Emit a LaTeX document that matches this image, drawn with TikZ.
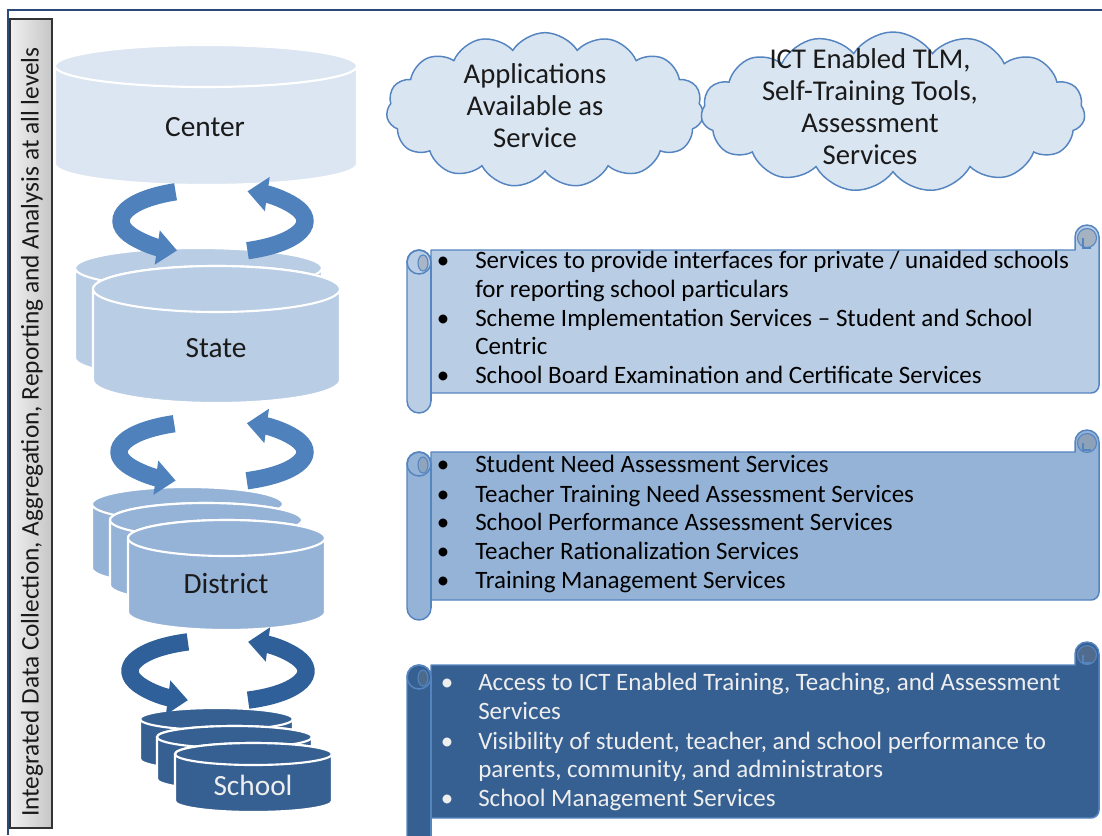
\documentclass[tikz,border=0pt]{standalone}
\usepackage{fontspec}
\setmainfont{Carlito}
\usetikzlibrary{shapes.symbols,arrows.meta}
\definecolor{frameblue}{HTML}{2B4A7A}
\definecolor{cen}{HTML}{DCE6F2}
\definecolor{sta}{HTML}{B9CDE5}
\definecolor{dis}{HTML}{95B3D7}
\definecolor{sch}{HTML}{376092}
\definecolor{arrA}{HTML}{4F81BD}
\definecolor{arrB}{HTML}{30609A}
\definecolor{cloudfill}{HTML}{DAE5F2}
\definecolor{cloudline}{HTML}{5585C0}
\definecolor{scrollline}{HTML}{5585C0}
\definecolor{txtdark}{HTML}{1A1A1A}
\definecolor{txtlight}{HTML}{EEEEEE}
\newcommand\cylshape[6]{% a b top bottom ry colour
  \pgfmathsetmacro\cylcx{(#1+#2)/2}\pgfmathsetmacro\cylrx{(#2-#1)/2}
  \filldraw[fill=#6, draw=white, line width=1.6pt]
    (#1,#3+#5) -- (#1,#4-#5) arc[start angle=180,end angle=0,x radius=\cylrx,y radius=#5]
    -- (#2,#3+#5) arc[start angle=0,end angle=-180,x radius=\cylrx,y radius=#5] -- cycle;
  \filldraw[fill=#6, draw=white, line width=1.6pt] (\cylcx,#3+#5) ellipse[x radius=\cylrx, y radius=#5];
}
\newcommand\scrollpanel[7]{% L T R B rolltop leftbottom colour
  \filldraw[fill=#7, draw=scrollline, line width=1.1pt, line join=round]
    (#1+24,#2) -- (#3-24,#2) -- (#3-24,#5+12) arc[start angle=180,end angle=360,radius=12]
    -- (#3,#4-8) arc[start angle=0,end angle=90,radius=8]
    -- (#1+24,#4) -- (#1+24,#6-12) arc[start angle=0,end angle=180,radius=12]
    -- (#1,#2+12) arc[start angle=180,end angle=360,radius=12] -- cycle;
  \draw[scrollline, line width=1.1pt] (#1+24,#2+12) -- (#1+24,#6-12);
  \draw[scrollline, line width=1.1pt] (#1+12,#2+12) circle[radius=12];
  \filldraw[fill=#7!70!gray, draw=scrollline, line width=0.8pt] (#1+16,#2+13) ellipse[x radius=5, y radius=8];
  \filldraw[fill=#7!65!gray, draw=scrollline, line width=0.8pt] (#3-12,#5+13) circle[radius=9.5];
  \draw[scrollline, line width=0.9pt] (#3-16,#5+13) -- (#3-16,#2-2) -- (#3-8,#2-2);
}
\tikzset{
  ring/.style={line width=13pt, -{Triangle[width=25pt,length=15pt]}},
  cyllabel/.style={font=\fontsize{22}{26}\selectfont, text=txtdark, inner sep=0pt},
  cloudbox/.style={cloud, cloud puffs=15, cloud puff arc=115, cloud ignores aspect, draw=cloudline, fill=cloudfill, line width=1.1pt, inner sep=0pt},
  cloudtext/.style={font=\fontsize{21.5}{24}\selectfont, align=center, text=txtdark, inner sep=0pt},
  listline/.style={font=\fontsize{18.75}{22}\selectfont, anchor=west, text height=13pt, text depth=4pt, inner sep=0pt},
  bul/.style={font=\fontsize{18.75}{22}\selectfont, anchor=center, text height=13pt, text depth=4pt, inner sep=0pt},
}
\begin{document}
\begin{tikzpicture}[x=0.75pt,y=-0.75pt]
\useasboundingbox (0,0) rectangle (1102,835);
\clip (0,0) rectangle (1102,835);
\fill[white] (0,0) rectangle (1102,835);
% frame
\draw[frameblue, line width=2.2pt] (8,835) -- (8,10) -- (1102,10);
% side bar
\shade[left color=gray!12, right color=gray!45] (10,19) rectangle (52,828);
\draw[black!80, line width=1.1pt] (10,19) rectangle (52,828);
\node[rotate=90, font=\fontsize{19}{22}\selectfont, text=txtdark, inner sep=0pt] (sidebar) at (32,432)
  {Integrated Data Collection, Aggregation, Reporting and Analysis at all levels};
% cylinders
\cylshape{55}{357}{45}{185}{21}{cen}
\node[cyllabel] (center) at (205,127) {Center};
\cylshape{75}{322}{248}{378}{20}{sta}
\cylshape{93}{340}{266}{403}{23}{sta}
\node[cyllabel] (state) at (216,348) {State};
\cylshape{92}{283}{487}{585}{17}{dis}
\cylshape{110}{302}{503}{602}{17}{dis}
\cylshape{128}{325}{520}{630}{18}{dis}
\node[cyllabel] (district) at (226,584) {District};
\cylshape{140}{293}{708}{770}{11}{sch}
\cylshape{157}{312}{726}{790}{11}{sch}
\cylshape{175}{332}{743}{812}{11}{sch}
\node[cyllabel, text=txtlight] (school) at (253,785) {School};
% ring arrows
\draw[ring, arrA] (213,221) ++(246:92 and 32) arc[start angle=246,end angle=113,x radius=92,y radius=32];
\draw[ring, arrA] (213,221) ++(68:92 and 32) arc[start angle=68,end angle=-68,x radius=92,y radius=32];
\draw[ring, arrA] (212,452) ++(246:93 and 31) arc[start angle=246,end angle=113,x radius=93,y radius=31];
\draw[ring, arrA] (212,452) ++(68:93 and 31) arc[start angle=68,end angle=-68,x radius=93,y radius=31];
\draw[ring, arrB] (218,671) ++(250:88 and 31) arc[start angle=250,end angle=110,x radius=88,y radius=31];
\draw[ring, arrB] (218,671) ++(70:88 and 31) arc[start angle=70,end angle=-70,x radius=88,y radius=31];
% clouds
\node[cloudbox, minimum width=238pt, minimum height=116pt] (cloudA) at (545,110) {};
\node[cloudtext] (cloudAtext) at (535,106) {Applications\\Available as\\Service};
\node[cloudbox, minimum width=288pt, minimum height=120pt] (cloudB) at (893,112) {};
\node[cloudtext] (cloudBtext) at (870,107) {ICT Enabled TLM,\\Self-Training Tools,\\Assessment\\Services};
% scrolls
\scrollpanel{407}{250}{1099}{393}{225}{413}{sta}
\node[bul] (b11) at (443,262) {•};
\node[listline] (t11) at (475,262) {Services to provide interfaces for private / unaided schools};
\node[listline] (t12) at (475,291) {for reporting school particulars};
\node[bul] (b13) at (443,320) {•};
\node[listline] (t13) at (475,320) {Scheme Implementation Services – Student and School};
\node[listline] (t14) at (475,348) {Centric};
\node[bul] (b15) at (443,377) {•};
\node[listline] (t15) at (475,377) {School Board Examination and Certificate Services};
\scrollpanel{407}{452}{1099}{600}{430}{620}{dis}
\node[bul] (b21) at (443,466) {•};
\node[listline] (t21) at (475,466) {Student Need Assessment Services};
\node[bul] (b22) at (443,496) {•};
\node[listline] (t22) at (475,496) {Teacher Training Need Assessment Services};
\node[bul] (b23) at (443,524) {•};
\node[listline] (t23) at (475,524) {School Performance Assessment Services};
\node[bul] (b24) at (443,553) {•};
\node[listline] (t24) at (475,553) {Teacher Rationalization Services};
\node[bul] (b25) at (443,582) {•};
\node[listline] (t25) at (475,582) {Training Management Services};
\scrollpanel{407}{665}{1099}{818}{642}{860}{sch}
\begin{scope}[every node/.append style={text=txtlight}]
\node[bul] (b31) at (447,684) {•};
\node[listline] (t31) at (478,684) {Access to ICT Enabled Training, Teaching, and Assessment};
\node[listline] (t32) at (478,713) {Services};
\node[bul] (b33) at (447,743) {•};
\node[listline] (t33) at (478,743) {Visibility of student, teacher, and school performance to};
\node[listline] (t34) at (478,771) {parents, community, and administrators};
\node[bul] (b35) at (447,800) {•};
\node[listline] (t35) at (478,800) {School Management Services};
\end{scope}
\end{tikzpicture}
\end{document}
